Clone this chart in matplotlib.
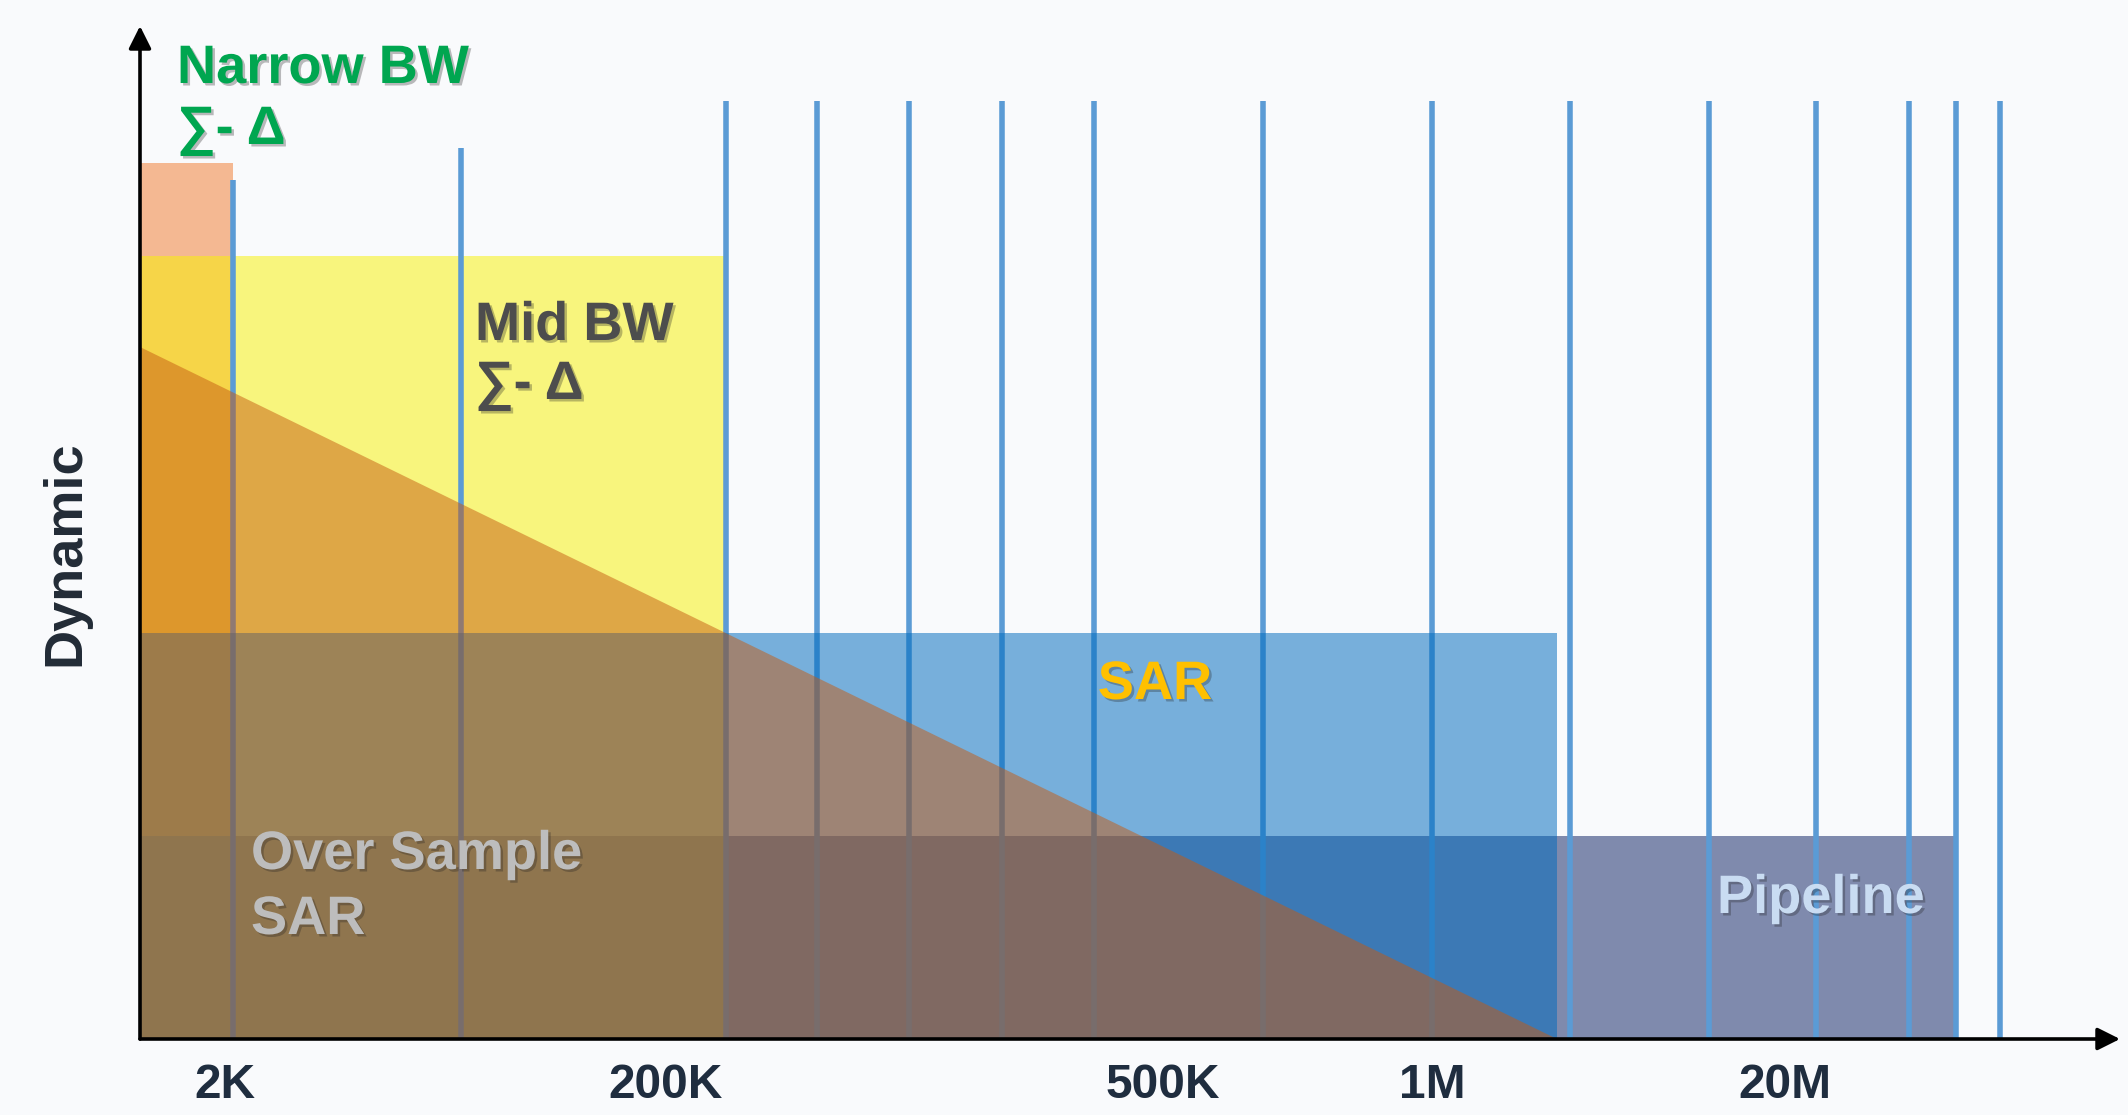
import matplotlib
matplotlib.use("Agg")
import matplotlib.pyplot as plt
from matplotlib.patches import Rectangle, Polygon
import matplotlib.patheffects as pe

plt.rcParams['font.family'] = ['Liberation Sans', 'DejaVu Sans']
plt.rcParams['font.weight'] = 'bold'

# Bandwidth axis (schematic units) and dynamic-range axis (schematic units)
tick_pos = [8.5, 52.6, 102.3, 129.2, 164.5]
tick_labels = ["2K", "200K", "500K", "1M", "20M"]

# Vertical bandwidth markers and how high each one reaches
grid_x = [9.3, 32.1, 58.6, 67.7, 76.9, 86.2, 95.4, 112.3, 129.2,
          143.0, 156.9, 167.6, 176.9, 181.6, 186.0]
grid_top = [85.9, 89.1, 93.8, 93.8, 93.8, 93.8, 93.8, 93.8, 93.8,
            93.8, 93.8, 93.8, 93.8, 93.8, 93.8]

# Architecture regions: (bandwidth start, bandwidth end, dynamic range)
narrow_bw = (0.0, 9.3, 87.6)
mid_bw = (0.0, 58.6, 78.3)
sar = (0.0, 141.7, 40.6)
pipeline = (0.0, 181.4, 20.3)
# Over-sampled SAR: dynamic range falls linearly from peak to zero
oversample_peak = 69.2
oversample_end = 141.7

W, H = 2128, 1115
fig = plt.figure(figsize=(W / 100, H / 100), dpi=100)
fig.patch.set_facecolor('#F9FAFC')
ax = fig.add_axes([140 / W, 76 / H, 1985 / W, 1015 / H])
ax.set_xlim(0, 198.5)
ax.set_ylim(0, 101.5)
ax.set_facecolor('none')
for s in ax.spines.values():
    s.set_visible(False)
ax.set_yticks([])


def region(r, **kw):
    x0, x1, top = r
    ax.add_patch(Rectangle((x0, 0), x1 - x0, top, linewidth=0, **kw))


region(narrow_bw, facecolor='#F4B892', zorder=1)
region(pipeline, facecolor='#7F8AAD', zorder=2)
region(mid_bw, facecolor='#F8F200', alpha=0.5, zorder=3)
ax.vlines(grid_x, 0, grid_top, colors='#5B9BD5', linewidth=4.0, zorder=4)
region(sar, facecolor='#006BBE', alpha=0.52, zorder=5)
ax.add_patch(Polygon([(0, 0), (0, oversample_peak), (oversample_end, 0)],
                     closed=True, facecolor='#C55A11', alpha=0.5,
                     linewidth=0, zorder=6))

# Axes with arrow heads
arrow = dict(arrowstyle='-|>,head_length=0.4,head_width=0.2', lw=2.6,
             color='black', mutation_scale=34, shrinkA=0, shrinkB=0)
ax.annotate('', xy=(198.0, 0), xytext=(0, 0), arrowprops=arrow,
            zorder=7, annotation_clip=False)
ax.annotate('', xy=(0, 101.3), xytext=(0, 0), arrowprops=arrow,
            zorder=7, annotation_clip=False)

ax.set_xticks(tick_pos, tick_labels)
ax.tick_params(axis='x', length=0, pad=17, labelsize=34.5,
               labelcolor='#1F2D3F')
for lbl in ax.get_xticklabels():
    lbl.set_fontweight('bold')

ax.text(-7.5, 48.6, "Dynamic", rotation=90, ha='center', va='center',
        fontsize=39, color='#222B36', fontweight='bold')

shadow = [pe.SimplePatchShadow(offset=(1.8, -1.8), shadow_rgbFace='#222222',
                               alpha=0.3), pe.Normal()]

txt = dict(fontsize=39, fontweight='bold', ha='left', va='baseline',
           zorder=8, path_effects=shadow)
ax.text(3.7, 95.6, "Narrow BW", color='#00A650', **txt)
ax.text(3.7, 89.5, "\u2211- \u0394", color='#00A650', **txt)
ax.text(33.5, 69.9, "Mid BW", color='#4D4D4D', **txt)
ax.text(33.5, 64.0, "\u2211- \u0394", color='#4D4D4D', **txt)
ax.text(11.1, 17.0, "Over Sample", color='#BDBDBD', **txt)
ax.text(11.1, 10.5, "SAR", color='#BDBDBD', **txt)
ax.text(157.7, 12.6, "Pipeline", color='#C9DCF2', **txt)
ax.text(101.5, 34.0, "SAR", color='#FFC000',
        **{**txt, 'ha': 'center'})

fig.savefig('out.png', dpi=100, facecolor=fig.get_facecolor())
